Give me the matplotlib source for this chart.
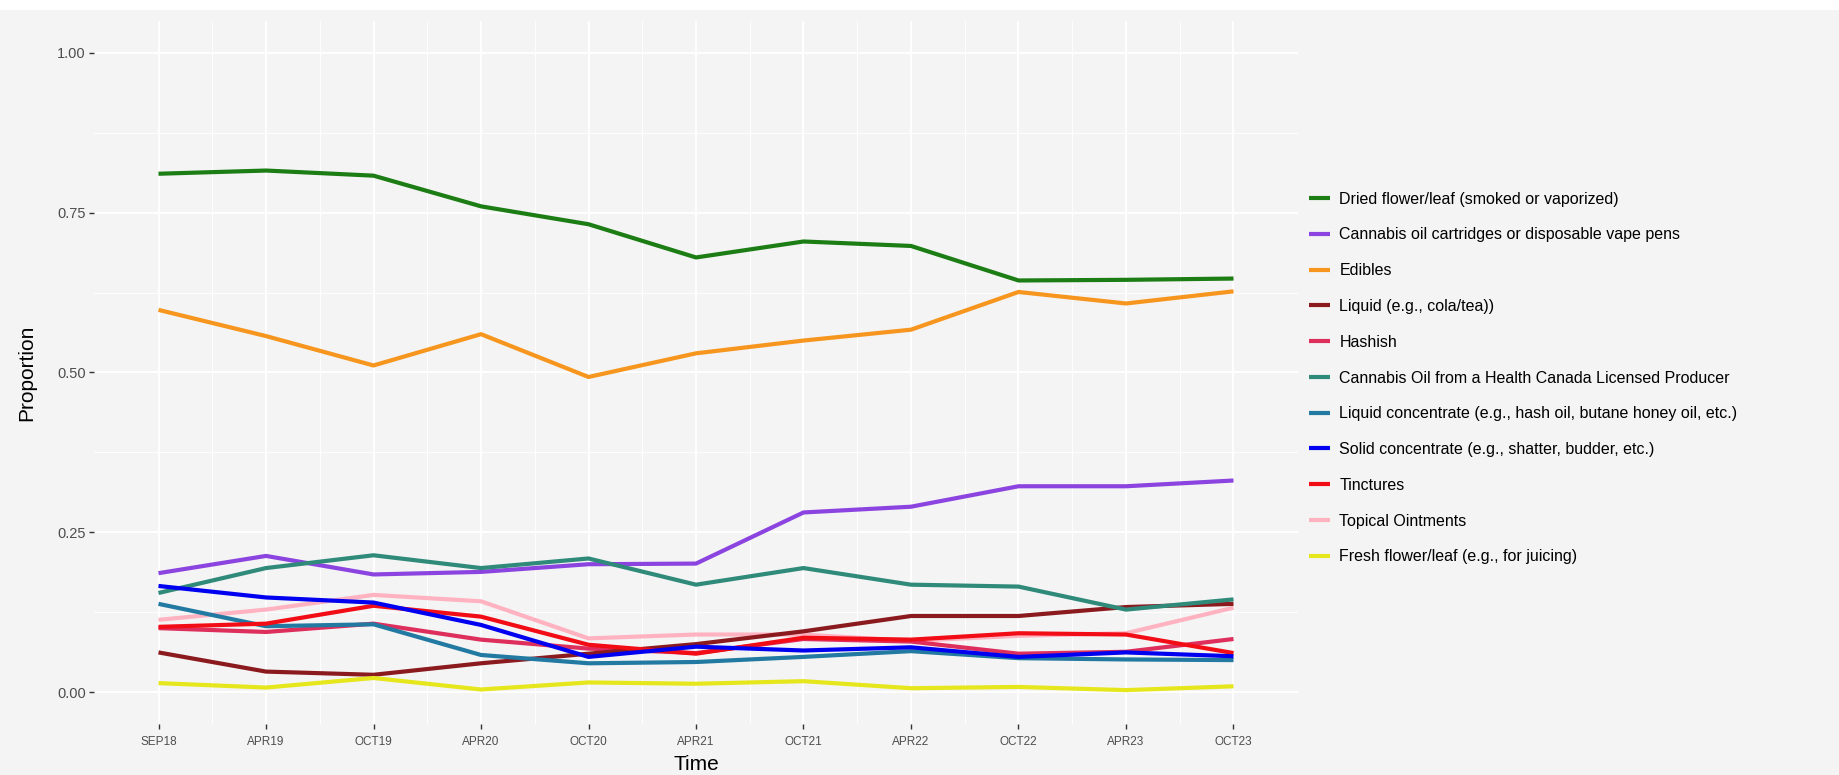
import matplotlib.pyplot as plt
from matplotlib.patches import Rectangle
import numpy as np

plt.rcParams['font.family'] = ['Liberation Sans', 'DejaVu Sans']

# Survey waves
periods = ['SEP18', 'APR19', 'OCT19', 'APR20', 'OCT20', 'APR21',
           'OCT21', 'APR22', 'OCT22', 'APR23', 'OCT23']

# Proportion of users per product type
dried_flower = [0.811, 0.816, 0.808, 0.760, 0.732, 0.680, 0.705, 0.698, 0.644, 0.645, 0.647]
vape_pens = [0.186, 0.213, 0.184, 0.188, 0.200, 0.201, 0.281, 0.290, 0.322, 0.322, 0.331]
edibles = [0.598, 0.557, 0.511, 0.560, 0.493, 0.530, 0.550, 0.567, 0.626, 0.608, 0.627]
liquid = [0.062, 0.032, 0.027, 0.045, 0.060, 0.075, 0.095, 0.119, 0.119, 0.133, 0.138]
hashish = [0.100, 0.094, 0.107, 0.082, 0.068, 0.061, 0.083, 0.079, 0.060, 0.063, 0.083]
hc_oil = [0.155, 0.194, 0.214, 0.194, 0.209, 0.168, 0.194, 0.168, 0.165, 0.129, 0.145]
liquid_conc = [0.138, 0.103, 0.106, 0.058, 0.045, 0.047, 0.055, 0.064, 0.053, 0.051, 0.050]
solid_conc = [0.166, 0.148, 0.140, 0.105, 0.055, 0.071, 0.065, 0.070, 0.055, 0.062, 0.056]
tinctures = [0.102, 0.107, 0.135, 0.118, 0.074, 0.060, 0.085, 0.082, 0.092, 0.090, 0.061]
topical = [0.113, 0.129, 0.152, 0.142, 0.084, 0.090, 0.090, 0.080, 0.088, 0.092, 0.132]
fresh_flower = [0.014, 0.007, 0.022, 0.004, 0.015, 0.013, 0.017, 0.006, 0.008, 0.003, 0.009]

labels = ['Dried flower/leaf (smoked or vaporized)',
          'Cannabis oil cartridges or disposable vape pens',
          'Edibles',
          'Liquid (e.g., cola/tea))',
          'Hashish',
          'Cannabis Oil from a Health Canada Licensed Producer',
          'Liquid concentrate (e.g., hash oil, butane honey oil, etc.)',
          'Solid concentrate (e.g., shatter, budder, etc.)',
          'Tinctures',
          'Topical Ointments',
          'Fresh flower/leaf (e.g., for juicing)']
series = [dried_flower, vape_pens, edibles, liquid, hashish, hc_oil,
          liquid_conc, solid_conc, tinctures, topical, fresh_flower]
colors = ['#1B7D14', '#8C44E0', '#F7961E', '#8B1A1F', '#DE2E5C', '#2F8A7A',
          '#2279A2', '#0000F0', '#F20C16', '#FFB3C1', '#E6E61C']
zorders = [3, 3, 3, 3, 2.6, 3, 3, 3.1, 3, 2.5, 3]

bg = '#F4F4F4'
fig = plt.figure(figsize=(18.4, 7.75), dpi=100, facecolor=bg)
# white strip along the top edge of the screenshot
fig.patches.append(Rectangle((0, 1 - 10 / 775), 1, 10 / 775, transform=fig.transFigure,
                             facecolor='white', edgecolor='none', zorder=0))

ax = fig.add_axes([94 / 1840, 1 - 724 / 775, 1204 / 1840, 703 / 775])
ax.set_facecolor(bg)

x = np.arange(len(periods))
for vals, lab, col, z in zip(series, labels, colors, zorders):
    ax.plot(x, vals, color=col, linewidth=3.0, label=lab, zorder=z,
            solid_capstyle='butt', solid_joinstyle='round')

ax.set_xlim(-0.6, len(periods) - 0.4)
ax.set_ylim(-0.05, 1.05)
ax.set_xticks(x)
ax.set_xticklabels(periods, fontsize=8.5, color='#4D4D4D')
ax.set_xticks(x[:-1] + 0.5, minor=True)
ax.set_yticks([0, 0.25, 0.5, 0.75, 1.0])
ax.set_yticklabels(['0.00', '0.25', '0.50', '0.75', '1.00'], fontsize=10.5, color='#4D4D4D')
ax.set_yticks([0.125, 0.375, 0.625, 0.875], minor=True)

ax.grid(which='major', color='white', linewidth=1.4, zorder=1)
ax.grid(which='minor', color='white', linewidth=0.7, zorder=1)
ax.set_axisbelow(True)
ax.tick_params(which='major', length=3.5, width=1, color='#333333')
ax.tick_params(axis='x', which='major', pad=5)
ax.tick_params(axis='y', which='major', pad=2.5)
ax.tick_params(which='minor', length=0)
for s in ax.spines.values():
    s.set_visible(False)

ax.set_xlabel('Time', fontsize=15, labelpad=5)
ax.set_ylabel('Proportion', fontsize=15, labelpad=15)

fig.legend(loc='center left', bbox_to_anchor=(1309 / 1840, 1 - 378 / 775),
           frameon=False, fontsize=11.5, handlelength=1.3, handletextpad=0.6,
           labelspacing=1.3, borderpad=0, borderaxespad=0)

fig.savefig('out.png', dpi=100, facecolor=bg)
